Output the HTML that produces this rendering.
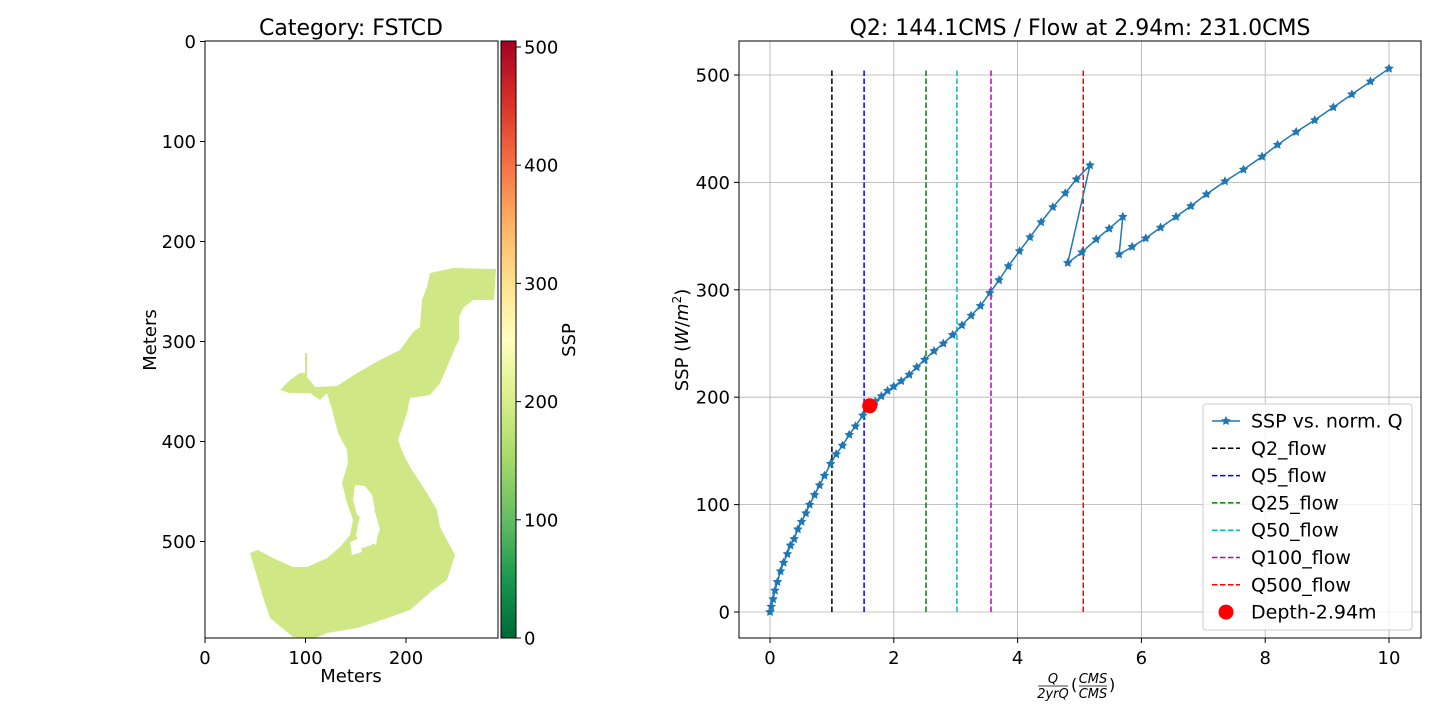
<!DOCTYPE html>
<html><head><meta charset="utf-8"><style>
body{margin:0;background:#fff;font-family:"DejaVu Sans","Liberation Sans",sans-serif}
svg text{font-family:"DejaVu Sans","Liberation Sans",sans-serif;fill:#000}
</style></head><body>
<svg id="fig" width="1440" height="720" xmlns="http://www.w3.org/2000/svg">
<defs>
<linearGradient id="rdylgn" x1="0" y1="1" x2="0" y2="0">
<stop offset="0" stop-color="#006837"/><stop offset="0.1" stop-color="#1a9850"/><stop offset="0.2" stop-color="#66bd63"/><stop offset="0.3" stop-color="#a6d96a"/><stop offset="0.4" stop-color="#d9ef8b"/><stop offset="0.5" stop-color="#ffffbf"/><stop offset="0.6" stop-color="#fee08b"/><stop offset="0.7" stop-color="#fdae61"/><stop offset="0.8" stop-color="#f46d43"/><stop offset="0.9" stop-color="#d73027"/><stop offset="1" stop-color="#a50026"/>
</linearGradient>
</defs>
<g>
<text x="351" y="35" font-size="22" text-anchor="middle">Category: FSTCD</text>
<g>
<polygon fill="#cfe885" points="430,273 453,268 496,269 494,300 473,300 463,308 459,317 459,340 455,348 447,367 440,383 430,395 410,398 407,413 398,440 403,453 410,467 427,493 437,510 440,527 448,542 455,555 447,580 433,590 410,610 373,623 357,628 327,633 313,639 293,637 270,618 263,597 250,553 258,550 273,558 293,567 307,567 327,558 340,547 350,535 353,520 347,503 342,483 348,463 347,450 338,433 333,413 327,393 320,400 310,393 290,393 280,390 290,380 300,373 305,373 305,353 307,353 307,377 315,387 337,386 357,373 380,360 400,350 413,332 420,327 422,300 427,287"/>
<polygon fill="#fff" points="355,485 365,486 372,495 375,510 368,520 357,515 353,500"/>
<polygon fill="#fff" points="360,515 375,512 380,530 372,545 362,548 356,535"/>
<polygon fill="#fff" points="350,542 360,538 362,552 352,555"/>
<polygon fill="#fff" points="371,530 378,533 376,545 371,542"/>
</g>
<rect x="205" y="41" width="293" height="597" fill="none" stroke="#000" stroke-width="1"/>
<g id="mapticks" font-size="18"></g>
<text x="351" y="682" font-size="18" text-anchor="middle">Meters</text>
<text x="156" y="340" font-size="18" text-anchor="middle" transform="rotate(-90 156 340)">Meters</text>
</g>
<g>
<rect x="501" y="41" width="15" height="597" fill="url(#rdylgn)" stroke="#000" stroke-width="1"/>
<g id="cbticks" font-size="18"></g>
<text x="575" y="340" font-size="18" text-anchor="middle" transform="rotate(-90 575 340)">SSP</text>
</g>
<g>
<text x="1080" y="35" font-size="22" text-anchor="middle">Q2: 144.1CMS / Flow at 2.94m: 231.0CMS</text>
<g id="grid"></g>
<g id="vlines"></g>
<g id="series"></g>
<rect x="739" y="41" width="682" height="597" fill="none" stroke="#000" stroke-width="1"/>
<g id="chartticks" font-size="18"></g>
<text x="688" y="340" font-size="18" text-anchor="middle" transform="rotate(-90 688 340)">SSP (<tspan font-style="italic">W</tspan>/<tspan font-style="italic">m</tspan><tspan font-size="12" dy="-7">2</tspan><tspan dy="7">)</tspan></text>
<g font-size="13">
<text x="1053" y="683" text-anchor="middle" font-style="italic">Q</text>
<line x1="1038" y1="686" x2="1068" y2="686" stroke="#000" stroke-width="0.8"/>
<text x="1053" y="698" text-anchor="middle" font-style="italic">2yrQ</text>
<text x="1071" y="690" font-size="16">(</text>
<text x="1093" y="683" text-anchor="middle" font-style="italic">CMS</text>
<line x1="1079" y1="686" x2="1107" y2="686" stroke="#000" stroke-width="0.8"/>
<text x="1093" y="698" text-anchor="middle" font-style="italic">CMS</text>
<text x="1109" y="690" font-size="16">)</text>
</g>
<g id="legend"></g>
</g>
</svg>
<script>
const NS="http://www.w3.org/2000/svg";
const normQ=[0,0.02,0.05,0.08,0.12,0.17,0.22,0.28,0.33,0.39,0.45,0.51,0.58,0.64,0.72,0.8,0.88,0.98,1.07,1.17,1.28,1.38,1.5,1.6,1.7,1.8,1.9,2.0,2.12,2.25,2.37,2.5,2.65,2.8,2.95,3.1,3.25,3.4,3.55,3.7,3.85,4.03,4.2,4.38,4.57,4.77,4.95,5.17,4.81,5.04,5.27,5.48,5.7,5.64,5.85,6.07,6.31,6.56,6.8,7.05,7.35,7.65,7.95,8.2,8.5,8.8,9.1,9.4,9.7,10];
const sspVals=[0,5,12,20,28,38,46,54,62,68,77,84,92,100,109,118,127,138,147,155,165,173,183,191,196,201,206,210,215,221,228,235,243,250,258,267,276,285,297,309,322,336,349,363,377,390,403,416,325,335,347,357,368,333,340,348,358,368,378,389,401,412,424,435,447,458,470,482,494,506];
const flowNames=["Q2_flow","Q5_flow","Q25_flow","Q50_flow","Q100_flow","Q500_flow"];
const flowVals=[1.0,1.52,2.52,3.02,3.57,5.06];
const flowColors=["#000000","#0000ff","#008000","#00bfbf","#bf00bf","#ff0000"];
const flowTop=506;
const depthPoint=[1.61,192];
const xTicks=[0,2,4,6,8,10];
const yTicks=[0,100,200,300,400,500];
const mapXTicks=[0,100,200];
const mapYTicks=[0,100,200,300,400,500];
const cbTicks=[0,100,200,300,400,500];

const X=v=>770+v*61.9, Y=v=>612-v*1.074;
const mX=v=>205+v*1.005, mY=v=>41.5+v*1.0, cY=v=>638-v*1.182;
function el(tag,attrs,parent){const e=document.createElementNS(NS,tag);for(const k in attrs)e.setAttribute(k,attrs[k]);parent.appendChild(e);return e;}
function txt(parent,x,y,s,anchor){const t=el("text",{x:x,y:y,"text-anchor":anchor},parent);t.textContent=s;return t;}

const grid=document.getElementById("grid"), ct=document.getElementById("chartticks");
xTicks.forEach(v=>{const g=el("line",{x1:X(v),x2:X(v),y1:41,y2:638,stroke:"#b0b0b0","stroke-width":0.8},grid);


el("line",{x1:X(v),x2:X(v),y1:638,y2:643,stroke:"#000"},ct);
const t=txt(ct,X(v),664,String(v),"middle");

});
yTicks.forEach(v=>{const g=el("line",{x1:739,x2:1421,y1:Y(v),y2:Y(v),stroke:"#b0b0b0","stroke-width":0.8},grid);


el("line",{x1:734,x2:739,y1:Y(v),y2:Y(v),stroke:"#000"},ct);
const t=txt(ct,730,Y(v)+6.5,String(v),"end");

});

const vl=document.getElementById("vlines");
flowVals.forEach((v,i)=>{const l=el("line",{x1:X(v),x2:X(v),y1:Y(0),y2:Y(flowTop),stroke:flowColors[i],"stroke-width":1.5,"stroke-dasharray":"5.5,2.5"},vl);

});

const sg=document.getElementById("series");
const pl=el("polyline",{points:normQ.map((q,i)=>X(q)+","+Y(sspVals[i])).join(" "),fill:"none",stroke:"#1f77b4","stroke-width":1.5},sg);


function star(cx,cy,r){let p=[];for(let k=0;k<10;k++){const a=-Math.PI/2+k*Math.PI/5,rr=k%2?r*0.5:r;p.push((cx+rr*Math.cos(a)).toFixed(1)+","+(cy+rr*Math.sin(a)).toFixed(1));}return p.join(" ");}
normQ.forEach((q,i)=>{const s=el("polygon",{points:star(X(q),Y(sspVals[i]),5),fill:"#1f77b4"},sg);

});
const dp=el("circle",{cx:X(depthPoint[0]),cy:Y(depthPoint[1]),r:7.5,fill:"#ff0000"},sg);



const mt=document.getElementById("mapticks");
mapXTicks.forEach(v=>{el("line",{x1:mX(v),x2:mX(v),y1:638,y2:643,stroke:"#000"},mt);
const t=txt(mt,mX(v),664,String(v),"middle");

});
mapYTicks.forEach(v=>{el("line",{x1:200,x2:205,y1:mY(v),y2:mY(v),stroke:"#000"},mt);
const t=txt(mt,196,mY(v)+6.5,String(v),"end");

});
const cb=document.getElementById("cbticks");
cbTicks.forEach(v=>{el("line",{x1:516,x2:521,y1:cY(v),y2:cY(v),stroke:"#000"},cb);
const t=txt(cb,524,cY(v)+6.5,String(v),"start");

});

const lg=document.getElementById("legend");
el("rect",{x:1203,y:404,width:209,height:226,rx:3,fill:"#fff","fill-opacity":0.8,stroke:"#cccccc"},lg);
const ly0=421, ldy=27.3;
let e0=el("g",{},lg);


el("line",{x1:1212,x2:1240,y1:ly0,y2:ly0,stroke:"#1f77b4","stroke-width":1.5},e0);
el("polygon",{points:star(1226,ly0,5),fill:"#1f77b4"},e0);
txt(e0,1251,ly0+6.5,"SSP vs. norm. Q","start").setAttribute("font-size","19");
flowNames.forEach((n,i)=>{const y=ly0+ldy*(i+1);const g=el("g",{},lg);


el("line",{x1:1212,x2:1240,y1:y,y2:y,stroke:flowColors[i],"stroke-width":1.5,"stroke-dasharray":"5.5,2.5"},g);
txt(g,1251,y+6.5,n,"start").setAttribute("font-size","19");});
const yd=ly0+ldy*7;const gd=el("g",{},lg);


el("circle",{cx:1226,cy:yd,r:7.5,fill:"#ff0000"},gd);
txt(gd,1251,yd+6.5,"Depth-2.94m","start").setAttribute("font-size","19");
</script>
</body></html>
